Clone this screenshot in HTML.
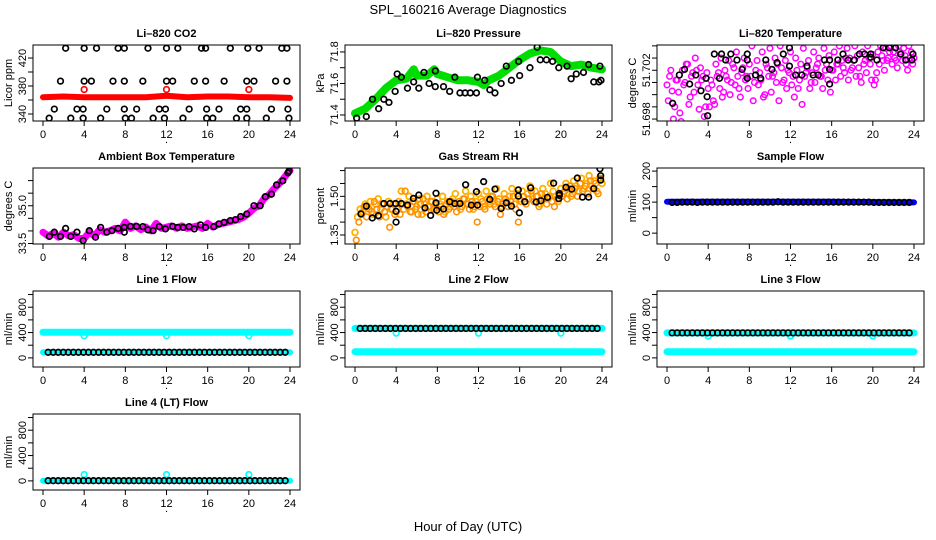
<!DOCTYPE html>
<html><head><meta charset="utf-8"><title>SPL_160216 Average Diagnostics</title>
<style>
html,body{margin:0;padding:0;background:#fff;}
svg{display:block;font-family:"Liberation Sans",Arial,sans-serif;}
.ttl{font-size:11px;font-weight:bold;text-anchor:middle;}
.tk{font-size:11px;text-anchor:middle;}
.yl{font-size:11px;text-anchor:middle;}
</style></head>
<body>
<svg id="chart" width="936" height="540" viewBox="0 0 936 540" xmlns="http://www.w3.org/2000/svg">
<rect x="0" y="0" width="936" height="540" fill="#fff"/>
<text x="468" y="14" font-size="13" text-anchor="middle">SPL_160216  Average Diagnostics</text>
<text x="468" y="531" font-size="13" text-anchor="middle">Hour of Day (UTC)</text>
</svg>
<script>
// ---------- data ----------
const xTicks = [0,4,8,12,16,20,24];

// CO2
const co2BandHours = [0,2,4,6,8,10,12,14,16,18,20,22,24];
const co2BandValues = [364,365,364,364,364,364,366,364,365,365,364,364,363];
const co2RedOutHours = [4,12,20];
const co2RedOutValues = [375,375,375];
const co2BlkHours = [2.2,4.0,5.2,7.3,7.9,10.2,12.0,13.1,15.4,15.8,18.2,19.9,21.0,23.2,23.7,
 1.7,4.0,4.7,6.8,7.9,9.7,12.0,12.6,14.7,15.8,17.6,19.8,20.5,22.6,23.7,
 1.1,3.3,3.9,6.2,7.9,9.1,11.3,11.9,14.2,15.9,17.1,19.2,19.8,22.2,23.8,
 0.6,2.7,3.9,5.6,8.0,8.6,10.7,11.8,13.6,15.9,16.5,18.8,19.8,21.7,23.9];
const co2BlkValues = [434,434,434,434,434,434,434,434,434,434,434,434,434,434,434,
 387,387,387,387,387,387,387,387,387,387,387,387,387,387,387,
 347,347,347,347,347,347,347,347,347,347,347,347,347,347,347,
 334,334,334,334,334,334,334,334,334,334,334,334,334,334,334];

// Pressure
const presBandHours = [0,1,2,3,4,5,5.7,6,7,7.7,8,9,10,11,12,12.5,13,14,15,16,17,18,19,20,21,22,23,24];
const presBandValues = [71.41,71.44,71.50,71.57,71.62,71.63,71.69,71.65,71.65,71.69,71.66,71.64,71.62,71.62,71.61,71.59,71.62,71.65,71.70,71.75,71.79,71.81,71.80,71.74,71.71,71.72,71.70,71.69];
const presBlkHours = [0.16,1.1,1.7,2.3,2.8,3.3,3.9,4.1,4.5,5.1,5.7,6.2,6.7,7.2,7.8,7.8,8.6,9.2,9.7,10.2,10.7,11.2,11.8,11.9,12.6,13.1,13.6,14.2,14.7,15.2,15.9,16.0,17.0,17.7,18.0,18.6,19.2,19.8,20.6,21.0,21.5,22.2,22.7,23.2,23.7,23.8,23.9];
const presBlkValues = [71.38,71.39,71.50,71.44,71.50,71.48,71.55,71.66,71.64,71.57,71.61,71.57,71.67,71.60,71.68,71.58,71.58,71.55,71.64,71.54,71.54,71.54,71.54,71.64,71.62,71.56,71.54,71.60,71.71,71.62,71.74,71.65,71.70,71.83,71.75,71.75,71.74,71.70,71.71,71.63,71.66,71.67,71.72,71.61,71.61,71.71,71.62];

// Li-820 temperature
const tempMagA = [51.7008,51.7015,51.7003,51.6990,51.7012,51.6985,51.7020,51.7010,51.7025,51.6998,51.7018,51.7030,51.7008,51.7022,51.7015,51.6990,51.7005,
 51.7012,51.6995,51.7025,51.7018,51.7030,51.7002,51.7015,51.7028,51.7010,51.7022,51.7035,51.7005,51.7018,51.7030,51.7015,51.7025,
 51.7040,51.7010,51.7028,51.7018,51.7035,51.7000,51.7022,51.7038,51.7015,51.7030,51.7025,51.7040,51.7010,51.7028,51.7020,51.7035,
 51.7015,51.7030,51.7005,51.7025,51.7038,51.7018,51.7028,51.7010,51.7035,51.7022,51.7030,51.7015,51.7038,51.7025,51.7032,51.7020,
 51.7035,51.7025,51.7040,51.7028,51.7018,51.7038,51.7030,51.7022,51.7040,51.7032,51.7015,51.7035,51.7028,51.7040,51.7025,51.7033,
 51.7012,51.7035,51.7040,51.7028,51.7038,51.7030,51.7040,51.7035,51.7028,51.7040,51.7033,51.7038,51.7025,51.7040,51.7035,51.7030];
const tempMagB = [51.6995,51.7020,51.6980,51.7012,51.7002,51.6978,51.7008,51.7025,51.6992,51.7015,51.7002,51.7020,51.6988,51.7012,51.6982,51.7018,
 51.6990,51.7008,51.6992,51.7015,51.7005,51.6998,51.7020,51.7012,51.7000,51.7025,51.7008,51.7015,51.6998,51.7022,51.7012,51.7005,
 51.7015,51.6995,51.7020,51.7008,51.7012,51.6998,51.7025,51.7015,51.7002,51.7018,51.7010,51.6995,51.7022,51.7012,51.7005,51.7018,
 51.7008,51.6998,51.7020,51.7012,51.6992,51.7015,51.7022,51.7005,51.7018,51.7010,51.7025,51.7015,51.7005,51.7020,51.7012,51.7002,
 51.7020,51.7012,51.7025,51.7015,51.7022,51.7030,51.7012,51.7020,51.7028,51.7015,51.7022,51.7010,51.7025,51.7018,51.7030,51.7012,
 51.7008,51.7018,51.7025,51.7032,51.7020,51.7028,51.7035,51.7025,51.7030,51.7022,51.7035,51.7028,51.7032,51.7020,51.7030,51.7025];
const tempBlkHours = [0.55,1.2,1.7,2.2,2.8,3.3,3.8,3.9,3.95,4.6,5.1,5.3,5.7,6.2,6.8,7.3,7.8,7.8,7.8,8.6,9.1,9.6,10.2,10.7,11.3,11.9,11.9,12.5,13.1,13.6,14.2,14.7,15.3,15.8,15.8,15.8,16.6,17.1,17.6,18.2,18.7,19.2,19.8,19.8,20.4,21.0,21.6,22.2,22.7,23.2,23.8,23.9];
const tempBlkValues = [51.69929,51.70161,51.70207,51.70087,51.70161,51.70032,51.70134,51.69983,51.69827,51.70333,51.70134,51.70333,51.70284,51.70333,51.70284,51.70207,51.70333,51.70284,51.70134,51.70161,51.70134,51.70284,51.70207,51.70262,51.70333,51.70384,51.70234,51.70161,51.70161,51.70234,51.70161,51.70161,51.70284,51.70284,51.70207,51.70087,51.70284,51.70333,51.70284,51.70284,51.70333,51.70333,51.70333,51.70306,51.70284,51.70384,51.70384,51.70384,51.70333,51.70284,51.70284,51.70333];

// Ambient box temperature
const boxBandHours = [0,0.5,1,1.5,2,2.5,3,3.5,4,4.5,5,5.5,6,6.5,7,7.5,8,8.5,9,9.5,10,10.5,11,11.5,12,12.5,13,13.5,14,14.5,15,15.5,16,16.5,17,17.5,18,18.5,19,19.5,20,20.5,21,21.5,22,22.5,23,23.5,24];
const boxBandValues = [33.95,33.8,33.9,33.75,33.95,33.8,33.85,33.7,33.7,33.95,33.8,34.05,33.95,34.0,34.1,34.0,34.35,34.1,34.2,34.05,34.15,34.0,34.3,34.1,34.15,34.2,34.1,34.2,34.1,34.15,34.2,34.1,34.3,34.15,34.25,34.3,34.35,34.4,34.45,34.55,34.7,34.9,35.0,35.3,35.45,35.7,35.9,36.15,36.4];
const boxBlkHours = [0.62,1.1,1.7,2.2,2.7,3.3,3.9,4.5,5.1,5.6,6.2,6.7,7.3,7.9,7.9,8.5,9.1,9.7,10.2,10.7,11.3,11.9,12.6,13.1,13.6,14.2,14.7,15.3,15.8,16.6,17.1,17.6,18.2,18.7,19.2,19.8,20.5,21.1,21.6,22.2,22.7,23.3,23.8,23.9];
const boxBlkValues = [33.78,33.95,33.78,34.10,33.78,33.95,33.62,34.01,33.75,34.14,33.95,34.01,34.10,33.95,34.14,34.18,34.18,34.17,34.04,34.01,34.17,34.08,34.18,34.14,34.14,34.17,34.08,34.24,34.14,34.17,34.28,34.34,34.41,34.45,34.57,34.67,35.0,35.0,35.36,35.46,35.83,35.99,36.31,36.38];

// Gas stream RH
const rhA = [1.36,1.42,1.45,1.44,1.47,1.46,1.48,1.43,1.47,1.49,1.45,1.47,1.42,1.48,1.45,1.47,1.44,
 1.48,1.52,1.45,1.47,1.50,1.44,1.48,1.46,1.49,1.43,1.47,1.50,1.46,1.48,1.45,1.49,
 1.47,1.50,1.44,1.48,1.46,1.49,1.51,1.47,1.45,1.49,1.52,1.47,1.50,1.45,1.48,1.51,
 1.49,1.46,1.52,1.48,1.50,1.47,1.53,1.49,1.46,1.51,1.48,1.50,1.53,1.47,1.51,1.49,
 1.52,1.48,1.51,1.54,1.49,1.52,1.50,1.47,1.53,1.51,1.49,1.55,1.52,1.50,1.48,1.53,
 1.51,1.55,1.53,1.50,1.56,1.54,1.52,1.57,1.53,1.55,1.58,1.54,1.56,1.52,1.57,1.55];
const rhB = [1.33,1.40,1.43,1.46,1.42,1.45,1.44,1.48,1.45,1.42,1.47,1.44,1.46,1.38,1.45,1.43,
 1.45,1.43,1.47,1.52,1.46,1.44,1.48,1.45,1.43,1.47,1.49,1.44,1.46,1.48,1.45,1.47,
 1.44,1.46,1.43,1.47,1.45,1.48,1.46,1.44,1.48,1.46,1.49,1.47,1.45,1.48,1.46,1.40,
 1.46,1.48,1.45,1.49,1.47,1.50,1.46,1.48,1.43,1.47,1.49,1.46,1.48,1.50,1.45,1.40,
 1.48,1.50,1.47,1.49,1.52,1.48,1.50,1.46,1.51,1.49,1.47,1.50,1.48,1.46,1.49,1.51,
 1.50,1.52,1.49,1.54,1.51,1.53,1.50,1.55,1.52,1.54,1.51,1.56,1.53,1.55,1.51,1.57];
const rhBlkHours = [0.58,1.1,1.68,2.27,2.8,3.4,3.95,3.99,3.99,4.5,5.1,5.67,6.2,6.8,7.35,7.87,7.87,7.94,8.6,9.2,9.7,10.2,10.75,11.3,11.8,11.9,12.5,13.1,13.6,14.2,14.7,15.2,15.87,15.87,15.97,16.5,17.07,17.6,18.07,18.7,19.3,19.8,19.85,19.85,20.5,21.06,21.6,22.1,22.7,23.2,23.8,23.87,23.87];
const rhBlkValues = [1.432,1.462,1.416,1.425,1.472,1.472,1.472,1.442,1.40,1.472,1.466,1.492,1.505,1.455,1.426,1.512,1.475,1.446,1.451,1.479,1.472,1.472,1.545,1.466,1.518,1.466,1.557,1.488,1.528,1.453,1.475,1.462,1.525,1.501,1.436,1.479,1.533,1.478,1.483,1.496,1.551,1.491,1.511,1.504,1.535,1.528,1.571,1.497,1.497,1.530,1.607,1.580,1.563];

// Sample flow
const sfBandHours = [0,4,8,12,16,20,24];
const sfBandValues = [101,101,101,101,101,100,99];
const sfBlkValues = [99,99,100,100,100,99,100,100,100,100,100,100,100,100,100,100,100,100,100,100,100,101,100,100,
 100,100,100,100,100,100,100,100,100,100,100,100,100,100,100,100,99,99,99,99,99,99,99,99];

// Line flows
const dipHours = [4,12,20];
const l1Cyan = [405,405,405,405,405,405,405];
const l1Blk = [88,88,88,88,88,88,88];
const l1Dip = [350,350,350];
const l2Blk = [465,465,465,465,465,465,465];
const l2Cyan = [98,98,98,98,98,98,98];
const l2Dip = [390,390,390];
const l3Blk = [395,395,395,395,395,395,395];
const l3Cyan = [98,98,98,98,98,98,98];
const l3Dip = [345,345,345];
const l4Blk = [3,3,3,3,3,3,3];
const l4Dip = [100,100,100];
const flowLineHours = [0,4,8,12,16,20,24];

// ---------- drawing ----------
const svg = document.getElementById('chart');
const NS = 'http://www.w3.org/2000/svg';
function mk(tag, attrs, parent, name, inter) {
  const e = document.createElementNS(NS, tag);
  for (const k in attrs) e.setAttribute(k, attrs[k]);
  
  
  (parent || svg).appendChild(e);
  return e;
}
let clipId = 0;
function panel(c, r, ymin, ymax, yTicks, yLabels, ylab, title, key) {
  const L = 33 + 312 * c, R = 300 + 312 * c, T = 45 + 123 * r, B = 121 + 123 * r;
  const p = {L, R, T, B,
    x: h => L + 10 + h * (247 / 24),
    y: v => B - (v - ymin) / (ymax - ymin) * (B - T)};
  const g = mk('g', {}, svg, key + '-panel', false);
  const id = 'clip' + (clipId++);
  const cp = mk('clipPath', {id: id}, g, key + '-clip', false);
  mk('rect', {x: L, y: T, width: R - L, height: B - T}, cp, key + '-clip-rect', false);
  p.plot = mk('g', {'clip-path': 'url(#' + id + ')'}, g, key + '-plot-area', false);
  p.g = g;
  mk('rect', {x: L, y: T, width: R - L, height: B - T, fill: 'none', stroke: '#000', 'stroke-width': 1}, g, key + '-frame', false);
  const t = mk('text', {x: (L + R) / 2, y: T - 8, class: 'ttl'}, g, key + '-title', false);
  t.textContent = title;
  // x axis
  xTicks.forEach(h => {
    mk('line', {x1: p.x(h), x2: p.x(h), y1: B, y2: B + 5, stroke: '#000'}, g, key + '-x-tick', false);
    const tl = mk('text', {x: p.x(h), y: B + 17, class: 'tk'}, g, key + '-x-tick-label', false);
    tl.textContent = h;
  });
  const dot = mk('text', {x: (L + R) / 2, y: B + 22, class: 'tk'}, g, key + '-x-label', false);
  dot.textContent = '.';
  // y axis
  yTicks.forEach(v => {
    mk('line', {x1: L - 5, x2: L, y1: p.y(v), y2: p.y(v), stroke: '#000'}, g, key + '-y-tick', false);
  });
  yLabels.forEach(v => {
    const yy = p.y(v);
    const tl = mk('text', {x: L - 7, y: yy, class: 'yl', transform: 'rotate(-90 ' + (L - 7) + ' ' + yy + ')'}, g, key + '-y-tick-label', false);
    tl.textContent = (key === 'box-temp') ? v.toFixed(1) : (key === 'rh' ? v.toFixed(2) : v);
  });
  const yl = mk('text', {x: L - 21, y: (T + B) / 2, class: 'yl', transform: 'rotate(-90 ' + (L - 21) + ' ' + ((T + B) / 2) + ')'}, g, key + '-y-axis-title', false);
  yl.textContent = ylab;
  return p;
}
function pts(p, hours, vals, color, name, r, sw) {
  hours.forEach((h, i) => {
    mk('circle', {cx: p.x(h), cy: p.y(vals[i]), r: r || 2.8, fill: 'none', stroke: color, 'stroke-width': sw || 1.7}, p.plot, name, false);
  });
}
function band(p, hours, vals, color, width, name) {
  const d = hours.map((h, i) => (i ? 'L' : 'M') + p.x(h).toFixed(1) + ' ' + p.y(vals[i]).toFixed(1)).join(' ');
  mk('path', {d: d, fill: 'none', stroke: color, 'stroke-width': width, 'stroke-linejoin': 'round', 'stroke-linecap': 'round'}, p.plot, name, false);
}
const qHoursA = []; for (let i = 0; i < 97; i++) qHoursA.push(i * 0.25);
const qHoursB = []; for (let i = 0; i < 96; i++) qHoursB.push(0.125 + i * 0.25);
const halfHours = []; for (let i = 0; i < 48; i++) halfHours.push(0.5 + i * 0.49);

let p = panel(0, 0, 330, 438.6, [340,360,380,400,420], [340,380,420], 'Licor ppm', 'Li\u2013820 CO2', 'co2');
band(p, co2BandHours, co2BandValues, '#ff0000', 6, 'co2-series-band');
pts(p, co2RedOutHours, co2RedOutValues, '#ff0000', 'co2-red-point');
pts(p, co2BlkHours, co2BlkValues, '#000', 'co2-black-point');

p = panel(1, 0, 71.362, 71.844, [71.4,71.5,71.6,71.7,71.8], [71.4,71.6,71.8], 'kPa', 'Li\u2013820 Pressure', 'pressure');
band(p, presBandHours, presBandValues, '#00dd00', 8, 'pressure-series-band');
pts(p, presBlkHours, presBlkValues, '#000', 'pressure-black-point');

p = panel(2, 0, 51.69784, 51.70407, [51.698,51.699,51.700,51.701,51.702,51.703,51.704], [51.698,51.702], 'degrees C', 'Li\u2013820 Temperature', 'li820-temp');
pts(p, qHoursA, tempMagA, '#ff00ff', 'temp-magenta-point', 2.8, 1.5);
pts(p, qHoursB, tempMagB, '#ff00ff', 'temp-magenta-point', 2.8, 1.5);
pts(p, tempBlkHours, tempBlkValues, '#000', 'temp-black-point');

p = panel(0, 1, 33.48, 36.5, [33.5,34,34.5,35,35.5,36], [33.5,35.0], 'degrees C', 'Ambient Box Temperature', 'box-temp');
band(p, boxBandHours, boxBandValues, '#ff00ff', 7, 'box-temp-band');
pts(p, boxBlkHours, boxBlkValues, '#000', 'box-temp-black-point');

p = panel(1, 1, 1.315, 1.61, [1.35,1.40,1.45,1.50,1.55,1.60], [1.35,1.50], 'percent', 'Gas Stream RH', 'rh');
pts(p, qHoursA, rhA, '#ffb000', 'rh-orange-point', 2.9, 1.8);
pts(p, qHoursB, rhB, '#ff8c00', 'rh-orange-point', 2.9, 1.5);
pts(p, rhBlkHours, rhBlkValues, '#000', 'rh-black-point');

p = panel(2, 1, -35, 210, [0,50,100,150,200], [0,100,200], 'ml/min', 'Sample Flow', 'sample-flow');
band(p, sfBandHours, sfBandValues, '#0000ff', 6, 'sample-flow-band');
pts(p, halfHours, sfBlkValues, '#000', 'sample-flow-black-point');

const flowTicks = [0,200,400,600,800,1000];
const flowLabels = [0,400,800];
p = panel(0, 2, -144, 1056, flowTicks, flowLabels, 'ml/min', 'Line 1 Flow', 'line1');
band(p, flowLineHours, l1Cyan, '#00ffff', 7, 'line1-cyan-band');
band(p, flowLineHours, l1Blk, '#00ffff', 6, 'line1-cyan-low-band');
pts(p, dipHours, l1Dip, '#00ffff', 'line1-cyan-dip');
pts(p, halfHours, halfHours.map(() => l1Blk[0]), '#000', 'line1-black-point');

p = panel(1, 2, -144, 1056, flowTicks, flowLabels, 'ml/min', 'Line 2 Flow', 'line2');
band(p, flowLineHours, l2Blk, '#00ffff', 7, 'line2-cyan-high-band');
band(p, flowLineHours, l2Cyan, '#00ffff', 7, 'line2-cyan-band');
pts(p, dipHours, l2Dip, '#00ffff', 'line2-cyan-dip');
pts(p, halfHours, halfHours.map(() => l2Blk[0]), '#000', 'line2-black-point');

p = panel(2, 2, -144, 1056, flowTicks, flowLabels, 'ml/min', 'Line 3 Flow', 'line3');
band(p, flowLineHours, l3Blk, '#00ffff', 7, 'line3-cyan-high-band');
band(p, flowLineHours, l3Cyan, '#00ffff', 7, 'line3-cyan-band');
pts(p, dipHours, l3Dip, '#00ffff', 'line3-cyan-dip');
pts(p, halfHours, halfHours.map(() => l3Blk[0]), '#000', 'line3-black-point');

p = panel(0, 3, -144, 1056, flowTicks, flowLabels, 'ml/min', 'Line 4 (LT) Flow', 'line4');
band(p, flowLineHours, l4Blk, '#00ffff', 6, 'line4-cyan-band');
pts(p, dipHours, l4Dip, '#00ffff', 'line4-cyan-dip');
pts(p, halfHours, halfHours.map(() => l4Blk[0]), '#000', 'line4-black-point');
</script>
</body></html>
